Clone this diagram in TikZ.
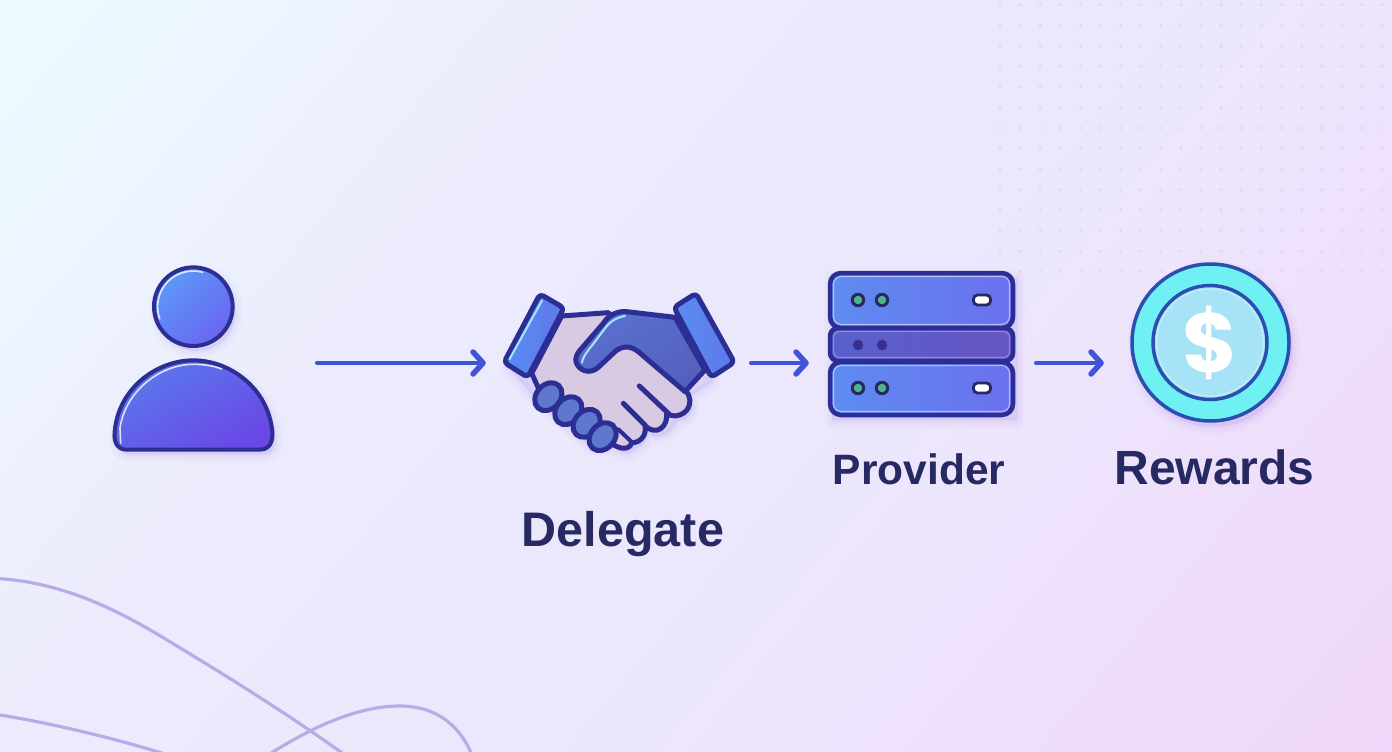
\documentclass[tikz,border=0pt]{standalone}
\usepackage{fontspec}
\setmainfont{Liberation Sans}
\newfontfamily\dollarfont{Poppins}
\usetikzlibrary{arrows.meta,calc}
\definecolor{ink}{HTML}{272A62}
\definecolor{edgec}{HTML}{2C2E94}
\definecolor{connc}{HTML}{3F55D8}
\definecolor{wavec}{HTML}{B9ABE8}
\definecolor{dotc}{HTML}{E1DAF3}
\definecolor{pale}{HTML}{D8CAE2}
\definecolor{ringc}{HTML}{6FF0F2}
\definecolor{facec}{HTML}{A6E3F6}
\definecolor{coinb}{HTML}{2A4FB0}
\definecolor{HeadA}{HTML}{5B98F8}
\definecolor{HeadB}{HTML}{6A66F0}
\definecolor{BodyA}{HTML}{5A78EC}
\definecolor{BodyB}{HTML}{6A48E6}
\definecolor{SrvA}{HTML}{5E8CF0}
\definecolor{SrvB}{HTML}{6B70EE}
\definecolor{MidA}{HTML}{5860CC}
\definecolor{MidB}{HTML}{6655C4}
\definecolor{HandA}{HTML}{5A70D0}
\definecolor{HandB}{HTML}{5560BC}
\definecolor{CuffA}{HTML}{5A8CF2}
\definecolor{CuffB}{HTML}{5F78EA}
\definecolor{Knuck}{HTML}{5F78CE}
\definecolor{glint}{HTML}{A5E6FA}
\definecolor{ledg}{HTML}{4FB58A}
\definecolor{ledd}{HTML}{3A2E8C}
\definecolor{shadowc}{HTML}{7A50D8}
\definecolor{bga}{HTML}{EBFBFF}
\definecolor{bgb}{HTML}{EDF5FE}
\definecolor{bgc}{HTML}{ECEBFD}
\definecolor{bgd}{HTML}{EBE8FC}
\definecolor{bge}{HTML}{EDE5FC}
\definecolor{bgf}{HTML}{F0D6FA}
\pgfdeclarehorizontalshading{bgshade}{100bp}{
 color(0bp)=(bga);
 color(11bp)=(bga);
 color(22bp)=(bgb);
 color(35bp)=(bgc);
 color(50bp)=(bgd);
 color(64bp)=(bge);
 color(89bp)=(bgf);
 color(100bp)=(bgf)}
\tikzset{
 x=1pt,y=-1pt,
 connline/.style={draw=connc,line width=4.5pt,line cap=round,-{Straight Barb[length=10pt,width=22pt,line width=5.5pt,round]}},
 lbl/.style={text=ink,font=\fontsize{#1}{#1}\selectfont\bfseries,inner sep=0pt,anchor=base},
 box/.style={inner sep=0pt,minimum height=60pt},
 outl/.style={draw=edgec,line width=#1,line join=round},
 outl/.default=4pt,
 hl/.style={draw=white,line width=1.6pt,line cap=round,opacity=.8},
 glintl/.style={draw=glint,line width=2pt,line cap=round},
 wavy/.style={draw=wavec,line width=3.2pt},
}
% #1 = offset, #2 = path
\newcommand{\softshadow}[2]{%
 \begin{scope}[shift={#1}]
 \foreach \w in {16,11,7,3}{\path[draw=shadowc,fill=shadowc,opacity=.022,line width=\w pt,line join=round] #2;}
 \end{scope}}
\newcommand{\bodypath}{(44,530) .. controls (55,400) and (170,316) .. (280,316) .. controls (390,316) and (505,400) .. (517,530) .. controls (520,565) and (505,584) .. (480,584) -- (80,584) .. controls (55,584) and (40,565) .. (44,530) -- cycle}
\begin{document}
\begin{tikzpicture}
\useasboundingbox (0,0) rectangle (1392,752);
\begin{scope}
 \clip (0,0) rectangle (1392,752);
 \begin{scope}[shift={(696,376)}]
  \node[inner sep=0pt,rotate=-40,scale=20,transform shape] (bg) at (0,0) {\pgfuseshading{bgshade}};
 \end{scope}
 \foreach \i in {0,...,19}{\foreach \j in {0,...,13}{
   \fill[dotc] ({1000+20.1*\i},{5+20.5*\j}) circle (1.9);}}
 \draw[wavy] (-3,578.5) .. controls (60,582) and (115,608) .. (167,640) .. controls (225,675) and (285,712) .. (345,755);
 \draw[wavy] (-3,714.5) .. controls (50,723) and (110,737) .. (165,754);
 \draw[wavy] (268,755) .. controls (300,735) and (350,706) .. (400,706) .. controls (440,706) and (462,730) .. (472,755);
\end{scope}
% layout boxes
\node[box,minimum width=159pt] (person) at (193.5,363) {};
\node[box,minimum width=230pt] (hand) at (618,363) {};
\node[box,minimum width=185pt] (server) at (921.5,363) {};
\node[box,minimum width=159pt] (coin) at (1210.5,363) {};
% ---- person
\begin{scope}[shift={(100,255)},scale=.3333]
 \softshadow{(9,15)}{(280,155) circle (118)}
 \softshadow{(9,15)}{\bodypath}
 \path[shade,left color=HeadA,right color=HeadB,shading angle=45,outl] (280,155) circle (118);
 \draw[hl] (280,155) ++(160:107) arc[start angle=160,end angle=285,radius=107];
 \path[shade,left color=BodyA,right color=BodyB,shading angle=30,outl] \bodypath;
 \draw[hl] (62,565) -- (60,520) .. controls (75,410) and (180,328) .. (280,328) .. controls (310,328) and (340,332) .. (365,342);
\end{scope}
% ---- handshake
\begin{scope}[shift={(490,280)},scale=.3333]
 \softshadow{(9,15)}{(215,108) -- (405,95) -- (555,112) -- (660,290) -- (590,335) .. controls (610,365) and (595,405) .. (555,408) .. controls (535,440) and (500,470) .. (465,445) .. controls (460,480) and (435,490) .. (425,492) .. controls (420,510) and (390,510) .. (365,490) -- (300,490) -- (135,350) -- (45,245) -- (155,45) -- cycle}
 \path[fill=pale,outl=5pt] (215,108) -- (355,98) -- (450,200) -- (590,335) .. controls (612,365) and (595,405) .. (555,408) .. controls (545,408) and (538,405) .. (530,398) .. controls (535,440) and (500,470) .. (465,437) .. controls (472,470) and (445,490) .. (425,488) .. controls (420,510) and (390,510) .. (365,490) -- (150,335) -- (125,280) -- cycle;
 \draw[edgec,line width=5pt,line cap=round] (448,318) -- (535,400);
 \draw[edgec,line width=5pt,line cap=round] (400,370) -- (465,435);
 \draw[edgec,line width=4pt,line cap=round] (385,448) -- (425,486);
 \foreach \cx/\cy in {175/350,235/392,290/430,338/470}{
  \begin{scope}[shift={(\cx,\cy)},rotate=48]
   \path[fill=Knuck,outl=5pt] (0,0) ellipse (46 and 36);
  \end{scope}}
 \path[shade,left color=HandA,right color=HandB,shading angle=30,outl=5pt] (365,105) .. controls (380,97) and (395,93) .. (410,95) -- (555,112) -- (645,270) -- (585,335) -- (445,215) .. controls (420,195) and (395,198) .. (375,215) -- (325,262) .. controls (300,285) and (265,272) .. (258,245) .. controls (255,230) and (265,215) .. (275,205) -- (340,130) .. controls (348,118) and (355,110) .. (365,105) -- cycle;
 \draw[glintl] (276,248) .. controls (280,225) and (300,205) .. (315,185) -- (345,145) .. controls (360,125) and (380,112) .. (405,108);
 \path[shade,left color=CuffA,right color=CuffB,outl=5pt,rounded corners=4pt] (150,42) -- (222,84) -- (113,292) -- (42,247) -- cycle;
 \draw[glintl] (156,62) -- (58,238);
 \path[shade,left color=CuffA,right color=CuffB,outl=5pt,rounded corners=4pt] (618,40) -- (552,82) -- (664,292) -- (733,247) -- cycle;
\end{scope}
% ---- server
\softshadow{(3,5)}{(829,273) rectangle (1014,415)}
\foreach \t/\b in {273/328,362/415}{
 \path[shade,left color=SrvA,right color=SrvB,outl=4.5pt,rounded corners=11pt] (830,\t) rectangle (1013,\b);
 \draw[draw=white,opacity=.5,line width=1.1pt,rounded corners=8pt] (833.5,\t+3.5) rectangle (1009.5,\b-3.5);
}
\path[shade,left color=MidA,right color=MidB,outl=4.5pt,rounded corners=8pt] (830,328) rectangle (1013,361);
\draw[draw=white,opacity=.3,line width=1.1pt,rounded corners=6pt] (833.5,331.5) rectangle (1009.5,357.5);
\foreach \y in {300,388}{
 \foreach \x in {858,882}{\path[fill=ledg,draw=ink,line width=3pt] (\x,\y) circle (5.7);}
 \path[fill=white,draw=ink,line width=2.8pt,rounded corners=4pt] (973.5,\y-5) rectangle (990.5,\y+5);
}
\foreach \x in {858,882}{\fill[ledd] (\x,345) circle (5.2);}
% ---- coin
\softshadow{(3,5)}{(1210.5,342.5) circle (79)}
\path[fill=ringc,draw=coinb,line width=3.5pt] (1210.5,342.5) circle (78.5);
\path[fill=facec,draw=coinb,line width=3.5pt] (1210,342.5) circle (57);
\draw[draw=white,opacity=.35,line width=1.2pt] (1210,342.5) circle (53.5);
\node[text=white,font=\dollarfont\bfseries\fontsize{84}{84}\selectfont,inner sep=0pt] (dollar) at (1210,342.5) {\$};
% ---- connectors
\draw[connline,shorten <=44pt,shorten >=17pt] (person.east) -- (hand.west);
\draw[connline,shorten <=18pt,shorten >=20pt] (hand.east) -- (server.west);
\draw[connline,shorten <=22pt,shorten >=27pt] (server.east) -- (coin.west);
% ---- labels
\node[lbl=48.5] (t1) at (623,546) {Delegate};
\node[lbl=42.5] (t2) at (919,484) {Provider};
\node[lbl=48] (t3) at (1214.5,484) {Rewards};
\end{tikzpicture}
\end{document}
